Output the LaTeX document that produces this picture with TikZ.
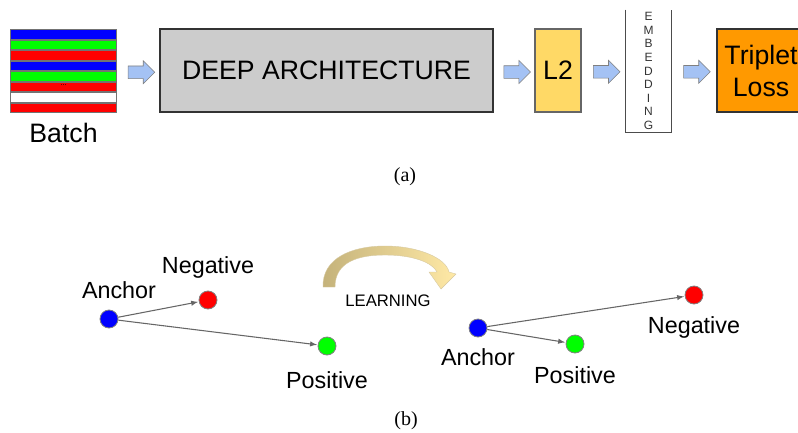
\documentclass[tikz,border=0pt]{standalone}
\usepackage{fontspec}
\setmainfont{Liberation Serif}
\setsansfont{Liberation Sans}
\usetikzlibrary{calc, shapes, arrows}

\definecolor{archgray}{HTML}{CCCCCC}
\definecolor{normyellow}{HTML}{FFD966}
\definecolor{lossorange}{HTML}{FF9900}
\definecolor{flowblue}{HTML}{A4C2F4}
\definecolor{learndark}{HTML}{C4B27A}
\definecolor{learnlight}{HTML}{FFE9A6}

\begin{document}
\begin{tikzpicture}[x=0.75pt,y=-0.75pt]
\tikzstyle{block}=[draw=black!80,line width=0.8pt,minimum height=62.25pt,inner sep=0pt,font=\sffamily\fontsize{20}{24}\selectfont]
\tikzstyle{flow}=[single arrow,draw=black!50,fill=flowblue,minimum height=20pt,single arrow head extend=4pt,inner xsep=0pt,inner ysep=4.5pt]
\tikzstyle{point}=[circle,draw=black!50,line width=0.6pt,minimum size=13.5pt,inner sep=0pt]
\tikzstyle{lbl}=[anchor=base,inner sep=0pt,font=\sffamily\fontsize{17.5}{20}\selectfont]
\tikzstyle{pull}=[->,>=latex,draw=black!60,line width=0.8pt,shorten >=0.5pt]
\useasboundingbox (0,0) rectangle (798,432);
\clip (0,0) rectangle (798,432);

% (a) pipeline
\node[minimum width=80.25pt,minimum height=63pt,inner sep=0pt] (batch) at (63.5,71) {};
\fill[black!55] (batch.north west) rectangle (batch.south east);
\foreach \c [count=\i] in {blue,green,red,blue,green,red,white,red}
  \fill[\c] ($(batch.north west)+(1.5,{(\i-1)*10.5+1.5})$) rectangle ($(batch.north east)+(-1.5,{\i*10.5-0.5})$);
\node[inner sep=0pt,font=\fontsize{6}{6}\selectfont] at (63.5,85) {...};
\node[anchor=base,inner sep=0pt,font=\sffamily\fontsize{20}{24}\selectfont] at (63.5,142) {Batch};

\node[block,fill=archgray,minimum width=249.75pt] (deep) at (326.5,70.5) {DEEP ARCHITECTURE};
\node[block,fill=normyellow,draw=black!60,minimum width=34.5pt] (ltwo) at (558,70.5) {L2};
\node[minimum width=33.75pt,minimum height=91.5pt,inner sep=0pt,align=center,
  font=\sffamily\fontsize{9}{10.2}\selectfont,text=black!80] (embed) at (648.5,71)
  {E\\M\\B\\E\\D\\D\\I\\N\\G};
\draw[black!70,line width=0.8pt] (embed.north west) -- (embed.south west) -- (embed.south east) -- (embed.north east);
\node[block,fill=lossorange,minimum width=66pt,align=center] (loss) at (761,70.5) {Triplet\\Loss};

\node[flow] at ($(batch.east)!0.5!(deep.west)+(0,1.5)$) {};
\node[flow] at ($(deep.east)!0.5!(ltwo.west)+(0,1.5)$) {};
\node[flow] at ($(ltwo.east)!0.5!(embed.west)+(0,1)$) {};
\node[flow] at ($(embed.east)!0.5!(loss.west)+(0,1)$) {};

\node[font=\fontsize{15}{18}\selectfont] (capa) at (405,177) {(a)};

% (b) triplets before and after learning
\node[point,fill=blue] (A_1) at (109,319) {};
\node[point,fill=red] (N_1) at (208,300) {};
\node[point,fill=green] (P_1) at (327,346) {};
\node[lbl] at (119,298) {Anchor};
\node[lbl] at (208,273) {Negative};
\node[lbl] at (327,388) {Positive};
\draw[pull] (A_1) -- (N_1);
\draw[pull] (A_1) -- (P_1);

\shade[left color=learndark,right color=learnlight,draw=learndark!70,line width=0.3pt]
  (323,287) .. controls (322,258) and (352,246) .. (385,246)
  .. controls (418,246) and (446,258) .. (449,272) -- (456,274) -- (441,289) -- (429,272) -- (437,272)
  .. controls (432,262) and (412,255) .. (385,255)
  .. controls (358,255) and (335,262) .. (335,287) -- cycle;
\node[anchor=base,inner sep=0pt,font=\sffamily\fontsize{12.5}{15}\selectfont] (learn) at (388,306) {LEARNING};

\node[point,fill=blue] (A_2) at (478,328) {};
\node[point,fill=red] (N_2) at (694,295) {};
\node[point,fill=green] (P_2) at (575,344) {};
\node[lbl] at (478,365) {Anchor};
\node[lbl] at (694,333) {Negative};
\node[lbl] at (575,383) {Positive};
\draw[pull] (A_2) -- (N_2);
\draw[pull] (A_2) -- (P_2);

\node[font=\fontsize{15}{18}\selectfont] (capb) at (406,421) {(b)};
\end{tikzpicture}
\end{document}
